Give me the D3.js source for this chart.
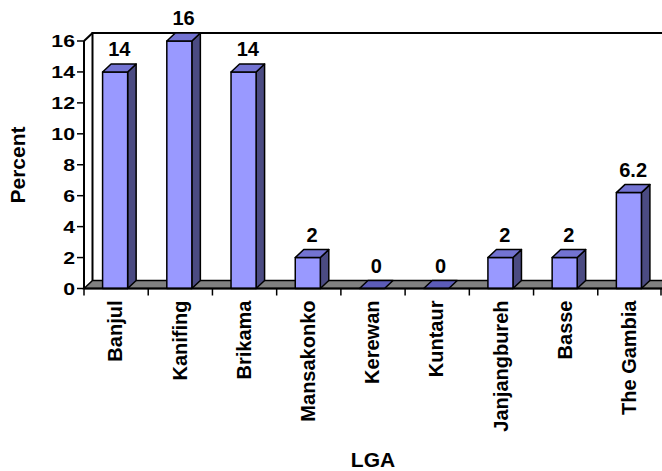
<!DOCTYPE html>
<html>
<head>
<meta charset="utf-8">
<script src="https://cdn.jsdelivr.net/npm/d3@7"></script>
<style>
  html, body { margin: 0; padding: 0; background: #fff; }
  svg { display: block; font-family: "Liberation Sans", Arial, sans-serif; font-weight: bold; }
</style>
</head>
<body>
<svg id="chart" width="662" height="471"></svg>
<script>
// Share (%) by LGA
const categories = ["Banjul", "Kanifing", "Brikama", "Mansakonko", "Kerewan", "Kuntaur", "Janjangbureh", "Basse", "The Gambia"];
const values = [14, 16, 14, 2, 0, 0, 2, 2, 6.2];
const valueLabels = ["14", "16", "14", "2", "0", "0", "2", "2", "6.2"];
const yTicks = [0, 2, 4, 6, 8, 10, 12, 14, 16];

const svg = d3.select("#chart");
const W = 662, H = 471;

// plot frame (front plane) and 3D depth offset
const plotL = 84, plotR = 662, plotT = 41, plotB = 288.5;
const dx = 8.5, dy = -8;

const x = d3.scaleBand().domain(categories).range([plotL, plotR]).paddingInner(0).paddingOuter(0);
const y = d3.scaleLinear().domain([0, 16]).range([plotB, plotT]);

const faceW = x.bandwidth() * 0.39;
const colFront = "#9999FF", colTop = "#7373D2", colSide = "#4B4B82";

// back wall outline
svg.append("path")
  .attr("d", `M${plotL + dx},${plotB + dy} L${plotL + dx},${plotT + dy} L${W + 20},${plotT + dy}`)
  .attr("fill", "none").attr("stroke", "#000").attr("stroke-width", 2);
svg.append("line")
  .attr("x1", plotL).attr("y1", plotT).attr("x2", plotL + dx).attr("y2", plotT + dy)
  .attr("stroke", "#000").attr("stroke-width", 2);

// floor
svg.append("path")
  .attr("d", `M${plotL},${plotB} L${plotL + dx},${plotB + dy} L${W + 20},${plotB + dy} L${W + 20},${plotB} Z`)
  .attr("fill", "#808080").attr("stroke", "#000").attr("stroke-width", 1.5);

// bars
const bars = svg.append("g");
categories.forEach((c, i) => {
  const v = values[i];
  const xl = x(c) + (x.bandwidth() - faceW) / 2 - 1;
  const xr = xl + faceW;
  const yv = y(v), y0 = y(0);
  const g = bars.append("g").attr("stroke", "#000").attr("stroke-width", 1.5).attr("stroke-linejoin", "round");
  if (v > 0) {
    g.append("path")
      .attr("d", `M${xr},${yv} L${xr + dx},${yv + dy} L${xr + dx},${y0 + dy} L${xr},${y0} Z`)
      .attr("fill", colSide);
    g.append("rect")
      .attr("x", xl).attr("y", yv).attr("width", faceW).attr("height", y0 - yv)
      .attr("fill", colFront);
  }
  g.append("path")
    .attr("d", `M${xl},${yv} L${xl + dx},${yv + dy} L${xr + dx},${yv + dy} L${xr},${yv} Z`)
    .attr("fill", v > 0 ? colTop : "#5C5CB8");

  // value label
  svg.append("text")
    .attr("x", (xl + xr) / 2 + dx / 2).attr("y", yv - 16)
    .attr("text-anchor", "middle").attr("font-size", 20)
    .text(valueLabels[i]);
});

// y axis
svg.append("line")
  .attr("x1", plotL).attr("y1", plotT).attr("x2", plotL).attr("y2", plotB)
  .attr("stroke", "#000").attr("stroke-width", 2);
const yt = svg.append("g");
yTicks.forEach(t => {
  yt.append("line")
    .attr("x1", plotL - 7).attr("x2", plotL).attr("y1", y(t)).attr("y2", y(t))
    .attr("stroke", "#000").attr("stroke-width", 1.5);
  yt.append("text")
    .attr("transform", `translate(${plotL - 9},${y(t)}) scale(1.25,1)`)
    .attr("dy", "0.36em").attr("text-anchor", "end").attr("font-size", 17)
    .text(t);
});

// x axis line and ticks
svg.append("line")
  .attr("x1", plotL).attr("x2", W + 5).attr("y1", plotB).attr("y2", plotB)
  .attr("stroke", "#000").attr("stroke-width", 2);
const xt = svg.append("g");
categories.concat([null]).forEach(c => {
  const px = c === null ? plotR - 1 : x(c);
  xt.append("line")
    .attr("x1", px).attr("x2", px).attr("y1", plotB).attr("y2", plotB + 7)
    .attr("stroke", "#000").attr("stroke-width", 1.5);
});
categories.forEach(c => {
  xt.append("text")
    .attr("transform", `translate(${x(c) + x.bandwidth() / 2 - 1},${plotB + 12}) rotate(-90)`)
    .attr("dy", "0.36em").attr("text-anchor", "end").attr("font-size", 20)
    .text(c);
});

// axis titles
svg.append("text")
  .attr("x", (plotL + plotR) / 2).attr("y", 467)
  .attr("text-anchor", "middle").attr("font-size", 21)
  .text("LGA");
svg.append("text")
  .attr("transform", `translate(25,165) rotate(-90)`)
  .attr("text-anchor", "middle").attr("font-size", 21)
  .text("Percent");
</script>
</body>
</html>
